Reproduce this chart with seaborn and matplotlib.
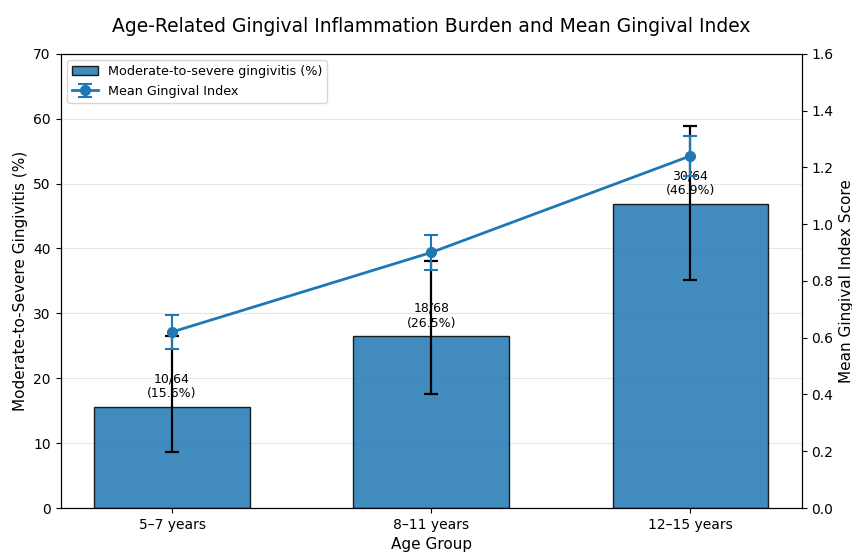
import numpy as np
import matplotlib
matplotlib.use("Agg")
import matplotlib.pyplot as plt
import seaborn as sns

# data
age_groups = ["5–7 years", "8–11 years", "12–15 years"]
n_cases = [10, 18, 30]
n_total = [64, 68, 64]
pct_gingivitis = [15.6, 26.5, 46.9]
ci_low = [8.7, 17.5, 35.2]
ci_high = [26.5, 38.1, 58.9]
mean_gi = [0.62, 0.90, 1.24]
gi_err = [0.06, 0.06, 0.07]

bar_color = "#1f77b4"

fig, ax1 = plt.subplots(figsize=(8.53, 5.54), dpi=100)

sns.barplot(x=age_groups, y=pct_gingivitis, color=bar_color, saturation=1,
            width=0.6, alpha=0.85, edgecolor="black", linewidth=1,
            label="Moderate-to-severe gingivitis (%)", ax=ax1)

x = np.arange(len(age_groups))
pct = np.array(pct_gingivitis)
yerr = [pct - np.array(ci_low), np.array(ci_high) - pct]
ax1.errorbar(x, pct, yerr=yerr, fmt="none", ecolor="black",
             elinewidth=1.6, capsize=5, capthick=1.6)

# n/N labels above bars
for i in range(len(age_groups)):
    ax1.text(x[i], pct[i] + 1, f"{n_cases[i]}/{n_total[i]}\n({pct[i]:.1f}%)",
             ha="center", va="bottom", fontsize=9)

ax1.set_xlim(-0.43, 2.43)
ax1.set_ylim(0, 70)
ax1.set_xlabel("Age Group", fontsize=11)
ax1.set_ylabel("Moderate-to-Severe Gingivitis (%)", fontsize=11)
ax1.grid(axis="y", alpha=0.3)
ax1.set_axisbelow(True)

ax2 = ax1.twinx()
ax2.errorbar(x, mean_gi, yerr=gi_err, fmt="-o", color=bar_color,
             linewidth=2, markersize=7, capsize=5, capthick=1.5,
             elinewidth=1.5, label="Mean Gingival Index")
ax2.set_ylim(0, 1.6)
ax2.set_ylabel("Mean Gingival Index Score", fontsize=11)

h1, l1 = ax1.get_legend_handles_labels()
h2, l2 = ax2.get_legend_handles_labels()
if ax1.get_legend() is not None:
    ax1.get_legend().remove()
ax2.legend(h1 + h2, l1 + l2, loc="upper left", fontsize=9.2)

ax1.set_title("Age-Related Gingival Inflammation Burden and Mean Gingival Index",
              fontsize=13.5, pad=16)

fig.subplots_adjust(left=0.071, right=0.94, bottom=0.083, top=0.903)
fig.savefig("out.png", dpi=100)
